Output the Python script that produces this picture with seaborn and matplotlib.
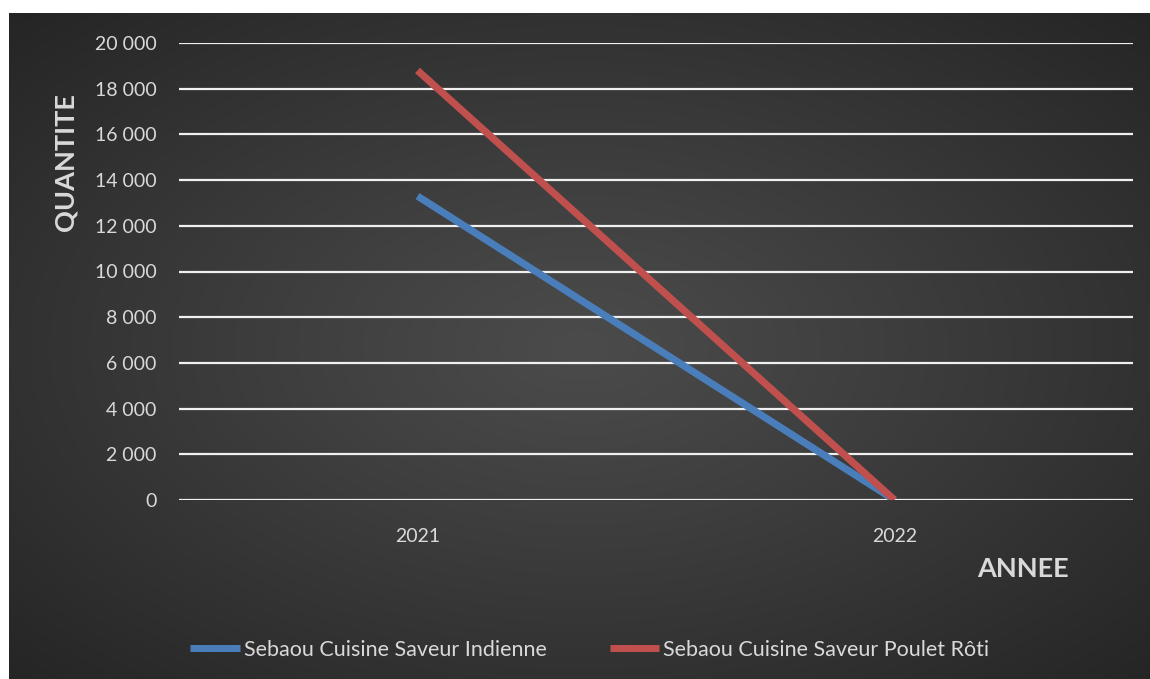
import numpy as np
import pandas as pd
import matplotlib
matplotlib.use("Agg")
import matplotlib.pyplot as plt
from matplotlib.ticker import FuncFormatter, MultipleLocator
import seaborn as sns

annees = ["2021", "2022"]
indienne = [13300, 0]
poulet = [18800, 0]
series = ["Sebaou Cuisine Saveur Indienne", "Sebaou Cuisine Saveur Poulet Rôti"]
couleurs = ["#4a7ebb", "#c0504d"]

df = pd.DataFrame({
    "annee": annees * 2,
    "quantite": indienne + poulet,
    "serie": [series[0]] * len(annees) + [series[1]] * len(annees),
})

sns.set_theme(style="dark")
plt.rcParams["font.family"] = ["Lato", "DejaVu Sans"]

W, H = 1150, 679
fig = plt.figure(figsize=(W / 100, H / 100), dpi=100, facecolor="white")

# background with radial gradient
bg = fig.add_axes([9 / W, 0, 1 - 9 / W, 1 - 13 / H])
bg.set_axis_off()
yy, xx = np.mgrid[0:200, 0:340]
cx, cy = 170, 100
r = np.sqrt(((xx - cx) / 170) ** 2 + ((yy - cy) / 100) ** 2) / np.sqrt(2)
v = (0x4b - (0x4b - 0x25) * np.clip(r, 0, 1) ** 1.1) / 255.0
img = np.dstack([v, v, v])
bg.imshow(img, aspect="auto", extent=[0, 1, 0, 1], interpolation="bilinear")
bg.set_xlim(0, 1)
bg.set_ylim(0, 1)

ax = fig.add_axes([179 / W, 1 - 500 / H, (1133 - 179) / W, (500 - 43) / H])
ax.patch.set_alpha(0)

sns.lineplot(data=df, x="annee", y="quantite", hue="serie", palette=couleurs,
             linewidth=5.2, ax=ax, solid_capstyle="butt", zorder=3)

ax.set_xlim(-0.5, 1.5)
ax.set_ylim(0, 20000)
ax.yaxis.set_major_locator(MultipleLocator(2000))
ax.yaxis.set_major_formatter(FuncFormatter(lambda v, p: f"{int(v):,}".replace(",", " ")))
ax.grid(axis="y", color="#f0f0f0", linewidth=1.6, zorder=1)
ax.grid(axis="x", visible=False)
for s in ax.spines.values():
    s.set_visible(False)
ax.tick_params(axis="y", length=0, pad=16, labelsize=14, labelcolor="#d9d9d9")
ax.tick_params(axis="x", length=0, pad=20, labelsize=14, labelcolor="#d9d9d9")
ax.set_xlabel("")
ax.set_ylabel("")

fig.text(66 / W, 1 - 162 / H, "QUANTITE", rotation=90, ha="center", va="center",
         fontsize=19.5, fontweight="bold", color="#d9d9d9")
fig.text(1023 / W, 1 - 569 / H, "ANNEE", ha="center", va="center",
         fontsize=19.5, fontweight="bold", color="#d9d9d9")

handles, labels = ax.get_legend_handles_labels()
ax.get_legend().remove()
leg = fig.legend(handles, labels, loc="center", bbox_to_anchor=(590 / W, 1 - 650 / H),
                 ncol=2, frameon=False, fontsize=15.5, labelcolor="#d9d9d9",
                 handlelength=2.3, handletextpad=0.2, columnspacing=2.9)
for lh in leg.get_lines():
    lh.set_linewidth(5)
    lh.set_solid_capstyle("butt")

fig.savefig("out.png", dpi=100, facecolor="white")
